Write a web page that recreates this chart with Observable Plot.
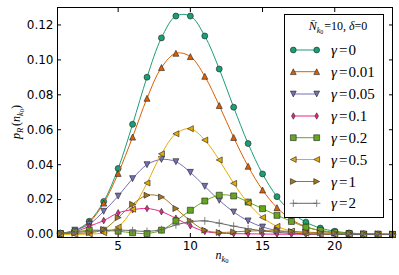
<!DOCTYPE html>
<html><head><meta charset="utf-8">
<script src="https://cdn.jsdelivr.net/npm/d3@7"></script>
<script src="https://cdn.jsdelivr.net/npm/@observablehq/plot@0.6"></script>
<style>body{margin:0;background:#fff}</style>
</head><body><div id="chart"></div>
<script>
const nValues = [1,2,3,4,5,6,7,8,9,10,11,12,13,14,15,16,17,18,19,20,21,22,23,24];
const gamma0    = [0.0005,0.0023,0.0076,0.0189,0.0378,0.0631,0.0901,0.1126,0.1251,0.1251,0.1137,0.0948,0.0729,0.0521,0.0347,0.0217,0.0128,0.0071,0.0037,0.0019,0.0009,0.0004,0.0002,0.0001];
const gamma001  = [0.0004,0.0020,0.0070,0.0180,0.0350,0.0558,0.0780,0.0956,0.1038,0.1019,0.0906,0.0739,0.0556,0.0391,0.0255,0.0154,0.0086,0.0045,0.0022,0.0010,0.0005,0.0002,0.0001,0.0001];
const gamma005  = [0.0005,0.0025,0.0059,0.0133,0.0220,0.0320,0.0400,0.0430,0.0417,0.0356,0.0276,0.0196,0.0129,0.0078,0.0043,0.0023,0.0012,0.0006,0.0003,0.0001,0.0001,0.0000,0.0000,0.0000];
const gamma01   = [0.0004,0.0015,0.0047,0.0080,0.0124,0.0142,0.0149,0.0131,0.0093,0.0050,0.0018,0.0008,0.0005,0.0004,0.0003,0.0002,0.0002,0.0001,0.0001,0.0001,0.0000,0.0000,0.0000,0.0000];
const gamma02   = [0.0006,0.0015,0.0025,0.0024,0.0019,0.0010,0.0006,0.0025,0.0078,0.0139,0.0192,0.0225,0.0221,0.0186,0.0148,0.0110,0.0075,0.0042,0.0024,0.0013,0.0006,0.0003,0.0002,0.0001];
const gamma05   = [0.0001,0.0001,0.0003,0.0010,0.0043,0.0145,0.0295,0.0462,0.0577,0.0606,0.0541,0.0427,0.0293,0.0180,0.0098,0.0047,0.0020,0.0008,0.0003,0.0001,0.0000,0.0000,0.0000,0.0000];
const gamma1    = [0.0005,0.0007,0.0010,0.0029,0.0097,0.0173,0.0225,0.0215,0.0149,0.0078,0.0025,0.0012,0.0015,0.0020,0.0022,0.0021,0.0018,0.0014,0.0010,0.0008,0.0006,0.0005,0.0004,0.0003];
const gamma2    = [0.0008,0.0012,0.0018,0.0024,0.0026,0.0022,0.0018,0.0028,0.0055,0.0073,0.0078,0.0065,0.0048,0.0033,0.0021,0.0012,0.0007,0.0004,0.0002,0.0001,0.0000,0.0000,0.0000,0.0000];
const seriesLabels = ["0","0.01","0.05","0.1","0.2","0.5","1","2"];
const seriesColors = ["#1b9e77","#d95f02","#7570b3","#e7298a","#66a61e","#e6ab02","#a6761d","#666666"];
const xTicks = [5,10,15,20];
const yTicks = [0,0.02,0.04,0.06,0.08,0.10,0.12];

function poly(pts){
  return {draw(ctx,size){const h=Math.sqrt(size/Math.PI);
    ctx.moveTo(pts[0][0]*h,pts[0][1]*h);
    for(let i=1;i<pts.length;i++) ctx.lineTo(pts[i][0]*h,pts[i][1]*h);
    ctx.closePath();}};
}
const symCircle = {draw(ctx,size){const r=Math.sqrt(size/Math.PI);ctx.moveTo(r,0);ctx.arc(0,0,r,0,2*Math.PI);}};
const symUp = poly([[0,-1],[-1,1],[1,1]]);
const symDown = poly([[0,1],[-1,-1],[1,-1]]);
const symLeft = poly([[-1,0],[1,-1],[1,1]]);
const symRight = poly([[1,0],[-1,-1],[-1,1]]);
const symThinDiamond = poly([[0,-1.1],[0.62,0],[0,1.1],[-0.62,0]]);
const symSquare = poly([[-1,-1],[1,-1],[1,1],[-1,1]]);
const symPlus = {draw(ctx,size){const h=Math.sqrt(size/Math.PI)*1.3;ctx.moveTo(-h,0);ctx.lineTo(h,0);ctx.moveTo(0,-h);ctx.lineTo(0,h);}};
const symbols = [symCircle,symUp,symDown,symThinDiamond,symSquare,symLeft,symRight,symPlus];

const allValues = [gamma0,gamma001,gamma005,gamma01,gamma02,gamma05,gamma1,gamma2];
const series = allValues.map((vals,i)=>nValues.map((n,j)=>({n, p: vals[j]})));

const marks = [
  Plot.axisX(xTicks,{anchor:"bottom",tickSize:-4,tickPadding:8,label:null,fontSize:12}),
  Plot.axisX(xTicks,{anchor:"top",tickSize:-4,fill:"none",label:null}),
  Plot.axisY(yTicks,{anchor:"left",tickSize:-4,tickPadding:8,tickFormat:d3.format(".2f"),label:null,fontSize:12}),
  Plot.axisY(yTicks,{anchor:"right",tickSize:-4,fill:"none",label:null})
];
series.forEach((d,i)=>{
  marks.push(Plot.line(d,{x:"n",y:"p",stroke:seriesColors[i],strokeWidth:1,curve:"catmull-rom"}));
  if(i===7){
    marks.push(Plot.dot(d,{x:"n",y:"p",symbol:symbols[i],r:3,fill:"none",stroke:seriesColors[i],strokeWidth:0.8}));
  } else {
    marks.push(Plot.dot(d,{x:"n",y:"p",symbol:symbols[i],r:3,fill:seriesColors[i],stroke:"#222",strokeWidth:0.6}));
  }
});
marks.push(Plot.frame({stroke:"black",strokeWidth:1}));

const plot = Plot.plot({
  width:399,height:275,marginLeft:57,marginRight:7,marginTop:7,marginBottom:38,
  x:{domain:[0.8,24]}, y:{domain:[-0.0017,0.13]},
  style:{fontFamily:"DejaVu Sans",fontSize:"12px",color:"black",background:"white"},
  marks
});
document.getElementById("chart").appendChild(plot);

const svg = d3.select(plot);
const serif = "'Liberation Serif', 'DejaVu Serif', serif";
// y label
const yl = svg.append("text").attr("transform","translate(20,122) rotate(-90)")
  .attr("text-anchor","middle").attr("font-family",serif).attr("font-size",12).attr("fill","black");
yl.append("tspan").attr("font-style","italic").text("p");
yl.append("tspan").attr("font-style","italic").attr("font-size",8.5).attr("dy",2.5).text("R");
yl.append("tspan").attr("dy",-2.5).attr("dx",2).text("(");
yl.append("tspan").attr("font-style","italic").text("n");
yl.append("tspan").attr("font-style","italic").attr("font-size",8.5).attr("dy",2.5).text("k");
yl.append("tspan").attr("font-size",6.5).attr("dy",1.5).text("0");
yl.append("tspan").attr("dy",-4).text(")");
// x label
const xl = svg.append("text").attr("x",222).attr("y",259).attr("text-anchor","middle")
  .attr("font-family",serif).attr("font-size",12).attr("fill","black");
xl.append("tspan").attr("font-style","italic").text("n");
xl.append("tspan").attr("font-style","italic").attr("font-size",8.5).attr("dy",2.5).text("k");
xl.append("tspan").attr("font-size",6.5).attr("dy",1.5).text("0");

// legend
const lg = svg.append("g");
lg.append("rect").attr("x",284.5).attr("y",14.5).attr("width",99).attr("height",203)
  .attr("fill","white").attr("stroke","black").attr("stroke-width",1);
const tt = lg.append("text").attr("x",338).attr("y",30).attr("text-anchor","middle")
  .attr("font-family",serif).attr("font-size",12).attr("fill","black");
tt.append("tspan").attr("font-style","italic").text("N\u0304");
tt.append("tspan").attr("font-style","italic").attr("font-size",8).attr("dy",2.5).text("k");
tt.append("tspan").attr("font-size",6).attr("dy",1.5).text("0");
tt.append("tspan").attr("dy",-4).attr("dx",1).text("=10, ");
tt.append("tspan").attr("font-style","italic").text("\u03b4");
tt.append("tspan").text("=0");
const rowY = [50,71.7,94,116,137.7,159.5,181.5,203.3];
seriesLabels.forEach((lab,i)=>{
  const y = rowY[i];
  lg.append("line").attr("x1",293.3).attr("x2",316.7).attr("y1",y).attr("y2",y)
    .attr("stroke",seriesColors[i]).attr("stroke-width",1);
  [293.3,316.7].forEach(x=>{
    const sz = Math.PI*(i===7?8:8.4);
    const p = lg.append("path").attr("transform",`translate(${x},${y})`)
      .attr("d",d3.symbol().type(symbols[i]).size(sz)());
    if(i===7) p.attr("fill","none").attr("stroke",seriesColors[i]).attr("stroke-width",0.8);
    else p.attr("fill",seriesColors[i]).attr("stroke","#222").attr("stroke-width",0.6);
  });
  const t = lg.append("text").attr("x",331).attr("y",y+5).attr("text-anchor","start")
    .attr("font-family",serif).attr("font-size",15).attr("fill","black");
  t.append("tspan").attr("font-style","italic").text("\u03b3");
  t.append("tspan").attr("dx",2).text("=");
  t.append("tspan").attr("dx",1).text(lab);
});
</script></body></html>
